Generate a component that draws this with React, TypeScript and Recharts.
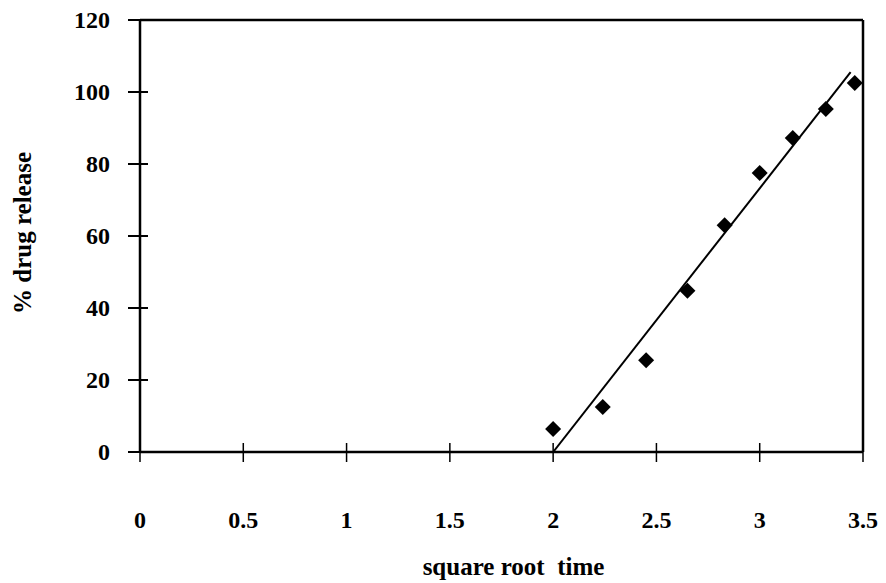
import React from 'react';
import { ComposedChart, Scatter, XAxis, YAxis, ReferenceLine, Label } from 'recharts';

const sqrtTime = [2.0, 2.24, 2.45, 2.65, 2.83, 3.0, 3.16, 3.32, 3.46];
const drugRelease = [6.4, 12.5, 25.5, 44.8, 63, 77.5, 87.2, 95.3, 102.5];
const fitX = [2.0, 3.44];
const fitY = [0, 105.5];
const xTicks = [0, 0.5, 1, 1.5, 2, 2.5, 3, 3.5];
const yTicks = [0, 20, 40, 60, 80, 100, 120];

const points = sqrtTime.map((x, i) => ({ x, y: drugRelease[i] }));
const fitLine = fitX.map((x, i) => ({ x, y: fitY[i] }));

const FONT = '"Liberation Serif", "DejaVu Serif", serif';

const YTick = (props: any) => {
  const { x, y, payload } = props;
  return (
    <g>
      <line x1={x - 12} x2={x + 8} y1={y} y2={y} stroke="#000" strokeWidth={2} />
      <text x={x - 30} y={y} textAnchor="end" dominantBaseline="central" fontFamily={FONT} fontWeight="bold" fontSize={24} fill="#000">
        {payload.value}
      </text>
    </g>
  );
};

const XTick = (props: any) => {
  const { x, y, payload } = props;
  return (
    <g>
      <line x1={x} x2={x} y1={y - 9} y2={y + 10} stroke="#000" strokeWidth={1.5} />
      <text x={x} y={y + 76} textAnchor="middle" fontFamily={FONT} fontWeight="bold" fontSize={24} fill="#000">
        {payload.value}
      </text>
    </g>
  );
};

const Diamond = (props: any) => {
  const { cx, cy } = props;
  const r = 8;
  return <polygon points={`${cx},${cy - r} ${cx + r},${cy} ${cx},${cy + r} ${cx - r},${cy}`} fill="#000" />;
};

const YTitle = (props: any) => {
  const { viewBox } = props;
  const cx = viewBox.x + 22;
  const cy = 233;
  return (
    <text x={cx} y={cy} transform={`rotate(-90 ${cx} ${cy})`} textAnchor="middle" dominantBaseline="central" fontFamily={FONT} fontWeight="bold" fontSize={25} fill="#000">
      % drug release
    </text>
  );
};

const XTitle = (props: any) => {
  const { viewBox } = props;
  const cx = viewBox.x + viewBox.width / 2 + 12;
  return (
    <text x={cx} y={viewBox.y + 123} textAnchor="middle" fontFamily={FONT} fontWeight="bold" fontSize={25} fill="#000" xmlSpace="preserve">
      square root  time
    </text>
  );
};

export default function App() {
  return (
    <div style={{ position: 'absolute', left: 0, top: 0, width: 886, height: 583, background: '#fff' }}>
      <ComposedChart width={886} height={583} margin={{ top: 20, right: 23, left: 0, bottom: 0 }}>
        <XAxis
          type="number"
          dataKey="x"
          domain={[0, 3.5]}
          ticks={xTicks}
          height={131}
          tickSize={0}
          tickMargin={0}
          tickLine={false}
          axisLine={{ stroke: '#000', strokeWidth: 2.5 }}
          tick={<XTick />}
          interval={0}
          allowDataOverflow
        >
          <Label content={<XTitle />} />
        </XAxis>
        <YAxis
          type="number"
          dataKey="y"
          domain={[0, 120]}
          ticks={yTicks}
          width={140}
          tickSize={0}
          tickMargin={0}
          tickLine={false}
          axisLine={{ stroke: '#000', strokeWidth: 2.5 }}
          tick={<YTick />}
          interval={0}
          allowDataOverflow
        >
          <Label content={<YTitle />} />
        </YAxis>
        <ReferenceLine y={120} stroke="#000" strokeWidth={2.5} />
        <ReferenceLine x={3.5} stroke="#000" strokeWidth={2.5} />
        <Scatter data={fitLine} line={{ stroke: '#000', strokeWidth: 2 }} shape={() => null} isAnimationActive={false} />
        <Scatter data={points} shape={<Diamond />} isAnimationActive={false} />
      </ComposedChart>
    </div>
  );
}
